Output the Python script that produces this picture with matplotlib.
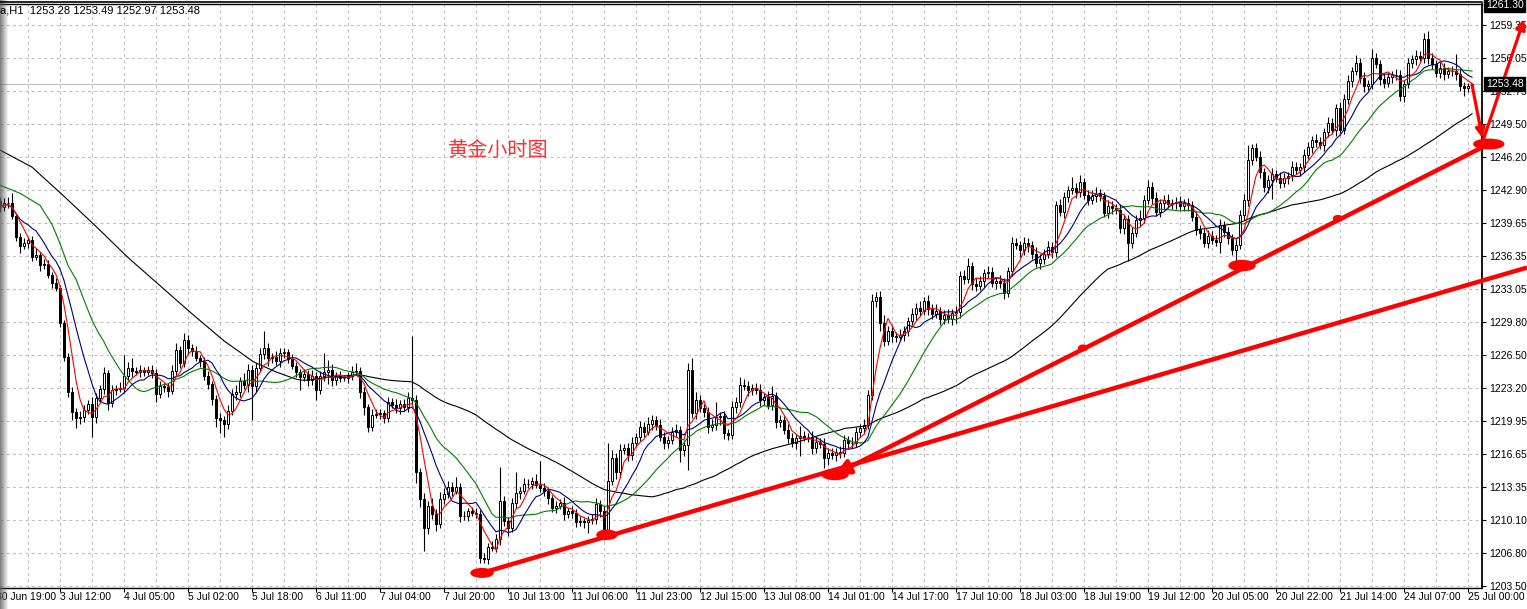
import numpy as np
import pandas as pd
import matplotlib
matplotlib.use("Agg")
import matplotlib.pyplot as plt
from matplotlib.patches import Ellipse, FancyArrowPatch
from matplotlib.lines import Line2D
from matplotlib.transforms import blended_transform_factory

# hourly closes (bar 0 = first visible bar, 30 Jun .. 25 Jul)
closes = [
    1241.2, 1241.6, 1241.6, 1240.3, 1238.2, 1237.3, 1237.6, 1237.9, 1236.3, 1236.5, 1235.5, 1235.6, 1234.5, 1233.7, 1233.2, 1229.7,
    1226.3, 1222.8, 1220.8, 1220.2, 1220.3, 1221.0, 1221.6, 1220.3, 1222.2, 1223.1, 1224.7, 1221.7, 1223.0, 1223.1, 1223.2, 1224.4,
    1225.2, 1224.9, 1224.8, 1225.0, 1224.8, 1225.0, 1224.7, 1222.6, 1223.4, 1223.3, 1222.9, 1224.9, 1227.0, 1225.7, 1228.0, 1227.2,
    1226.9, 1226.2, 1225.9, 1224.4, 1223.6, 1222.1, 1220.2, 1220.0, 1219.6, 1220.9, 1222.6, 1222.8, 1223.9, 1223.5, 1225.0, 1223.4,
    1225.2, 1226.6, 1227.2, 1226.2, 1226.3, 1225.9, 1226.7, 1226.8, 1226.1, 1225.4, 1224.8, 1224.3, 1224.6, 1224.0, 1224.4, 1223.0,
    1224.4, 1224.8, 1225.0, 1224.0, 1224.4, 1224.2, 1224.2, 1224.4, 1224.8, 1224.9, 1222.8, 1221.3, 1219.3, 1220.5, 1220.6, 1220.7,
    1220.2, 1221.8, 1221.5, 1221.2, 1221.6, 1221.3, 1222.2, 1222.0, 1214.8, 1212.2, 1209.3, 1211.5, 1210.7, 1209.7, 1212.2, 1212.7,
    1213.4, 1213.0, 1213.4, 1210.5, 1210.5, 1211.0, 1210.8, 1210.7, 1206.3, 1206.2, 1207.4, 1207.3, 1208.2, 1212.0, 1210.0, 1209.3,
    1211.8, 1212.8, 1213.0, 1213.7, 1213.7, 1214.0, 1213.6, 1213.3, 1213.0, 1212.3, 1211.3, 1211.5, 1211.8, 1210.7, 1211.0, 1210.8,
    1209.9, 1210.0, 1209.9, 1210.1, 1210.2, 1211.7, 1211.0, 1208.9, 1214.0, 1216.2, 1214.8, 1217.0, 1217.2, 1216.5, 1217.7, 1218.3,
    1219.3, 1218.8, 1219.6, 1220.0, 1219.5, 1218.3, 1217.7, 1218.0, 1218.8, 1219.0, 1217.0, 1217.5, 1225.0, 1220.7, 1222.0, 1221.2,
    1220.8, 1219.3, 1219.5, 1220.3, 1220.4, 1218.7, 1218.5, 1221.3, 1221.8, 1223.5, 1223.4, 1223.0, 1223.2, 1223.0, 1222.0, 1222.3,
    1221.5, 1222.4, 1219.8, 1220.0, 1219.0, 1218.2, 1217.7, 1218.2, 1218.4, 1218.3, 1218.3, 1217.2, 1217.8, 1217.6, 1216.2, 1216.7,
    1216.5, 1216.8, 1216.7, 1218.0, 1217.7, 1217.7, 1218.8, 1219.2, 1219.5, 1222.5, 1231.9, 1232.3, 1229.7, 1227.9, 1228.9, 1228.4,
    1228.3, 1228.5, 1228.9, 1229.9, 1230.6, 1231.2, 1230.9, 1231.9, 1231.1, 1230.6, 1230.9, 1230.1, 1230.5, 1230.1, 1230.7, 1230.8,
    1234.4, 1234.1, 1235.4, 1233.6, 1233.4, 1233.9, 1234.7, 1234.8, 1233.7, 1233.9, 1233.7, 1232.7, 1234.9, 1237.6, 1237.4, 1236.9,
    1237.6, 1237.4, 1236.6, 1235.7, 1236.1, 1236.6, 1237.2, 1236.8, 1241.4, 1240.7, 1242.2, 1242.9, 1243.1, 1242.7, 1243.7, 1242.4,
    1241.9, 1242.3, 1242.5, 1242.3, 1240.6, 1241.3, 1241.1, 1240.9, 1239.1, 1240.0, 1237.6, 1238.6, 1239.9, 1240.1, 1241.9, 1243.2,
    1242.1, 1240.7, 1241.6, 1241.9, 1241.5, 1241.6, 1241.7, 1241.3, 1241.6, 1241.4, 1240.2, 1238.9, 1238.6, 1237.6, 1238.3, 1237.9,
    1237.7, 1239.4, 1238.7, 1238.1, 1236.9, 1237.4, 1240.4, 1241.9, 1245.9, 1247.1, 1246.2, 1244.7, 1243.2, 1243.9, 1244.5, 1244.1,
    1243.6, 1244.1, 1244.3, 1245.2, 1244.9, 1245.2, 1246.4, 1247.2, 1247.9, 1247.7, 1247.4, 1248.7, 1249.6, 1248.9, 1251.1, 1248.9,
    1252.0, 1253.8, 1254.8, 1255.6, 1254.1, 1253.3, 1253.5, 1256.1, 1255.5, 1254.0, 1253.6, 1254.2, 1254.4, 1254.4, 1252.3, 1253.5,
    1255.6, 1256.0, 1256.3, 1256.1, 1258.0, 1256.1, 1255.5, 1254.6, 1255.1, 1254.5, 1254.8, 1254.8, 1254.5, 1253.3, 1253.1, 1253.28, 1253.48,
]
first_open = 1241.8

# wick lengths beyond the body (price units)
wick_up = [
    0.4, 0.5, 0.6, 1.0, 0.3, 0.4, 0.5, 0.3, 0.4, 0.6, 0.3, 0.5, 0.4, 0.3, 0.5, 0.3,
    0.3, 0.4, 0.5, 0.4, 0.6, 0.5, 0.4, 0.7, 0.5, 0.4, 0.6, 0.3, 0.5, 0.4, 0.6, 2.1,
    0.6, 1.0, 0.4, 0.5, 0.3, 0.4, 0.5, 0.4, 0.5, 0.3, 0.4, 0.6, 0.7, 0.4, 0.7, 0.5,
    0.4, 0.5, 0.3, 0.4, 0.5, 0.3, 0.4, 0.5, 0.4, 0.6, 0.5, 0.7, 0.4, 0.8, 0.6, 0.5,
    0.5, 0.6, 1.7, 0.5, 0.4, 0.6, 0.5, 0.4, 0.3, 0.5, 0.4, 0.3, 0.5, 0.4, 0.6, 0.4,
    0.5, 1.9, 1.0, 0.6, 0.4, 0.5, 0.3, 0.4, 0.6, 0.8, 0.4, 0.5, 0.3, 0.6, 0.5, 0.4,
    0.3, 0.5, 0.4, 0.6, 0.4, 0.5, 0.6, 6.2, 0.5, 0.4, 0.6, 0.5, 0.8, 0.5, 0.7, 0.6,
    0.6, 0.5, 1.0, 0.4, 0.5, 0.3, 0.4, 0.5, 0.4, 0.5, 0.4, 0.6, 0.5, 3.3, 0.5, 0.4,
    0.5, 2.0, 0.4, 0.6, 0.5, 0.4, 0.6, 2.3, 0.5, 0.4, 0.3, 0.5, 0.4, 0.6, 0.3, 0.5,
    0.4, 0.5, 0.3, 0.4, 0.5, 0.6, 0.4, 0.5, 3.7, 0.8, 0.5, 0.6, 0.4, 0.5, 0.6, 0.4,
    0.6, 0.5, 0.7, 0.5, 0.4, 0.6, 0.5, 0.4, 0.5, 0.6, 0.4, 0.5, 0.7, 1.2, 0.8, 0.5,
    0.4, 0.5, 0.6, 1.5, 0.4, 0.5, 0.4, 0.6, 0.5, 0.8, 0.6, 0.5, 0.4, 0.5, 0.6, 0.4,
    0.6, 1.0, 0.4, 0.5, 0.4, 0.6, 0.5, 0.4, 1.0, 0.5, 0.4, 0.6, 0.5, 0.4, 0.6, 0.5,
    0.5, 0.4, 0.6, 0.5, 0.4, 0.6, 0.5, 0.4, 0.6, 0.5, 0.7, 0.5, 0.6, 0.8, 0.5, 0.6,
    0.4, 0.6, 0.5, 0.4, 0.6, 0.5, 0.7, 0.4, 0.6, 0.5, 0.7, 0.4, 0.5, 0.6, 0.4, 0.6,
    0.5, 0.6, 0.8, 0.4, 0.6, 0.5, 0.4, 0.6, 0.5, 0.4, 0.6, 0.5, 0.4, 0.6, 0.5, 0.4,
    0.6, 0.5, 0.4, 0.6, 0.5, 0.4, 0.6, 0.5, 0.4, 0.6, 0.5, 0.4, 1.1, 0.5, 0.7, 0.4,
    0.5, 0.6, 0.7, 0.5, 0.4, 0.6, 0.5, 0.4, 0.6, 0.5, 0.4, 0.6, 0.5, 0.8, 0.5, 0.7,
    0.5, 0.6, 0.4, 0.5, 0.6, 0.4, 0.5, 0.6, 0.4, 0.5, 0.4, 0.6, 0.5, 0.4, 0.6, 0.5,
    0.5, 0.6, 0.4, 0.5, 0.4, 0.6, 0.5, 0.6, 1.5, 0.4, 0.5, 0.6, 0.4, 0.5, 0.6, 0.4,
    0.6, 0.5, 0.4, 0.6, 0.5, 0.4, 0.6, 0.5, 0.4, 0.6, 0.5, 0.4, 0.6, 0.5, 0.4, 0.6,
    0.5, 0.6, 0.4, 0.8, 0.5, 0.6, 0.4, 0.9, 0.5, 0.4, 0.6, 0.5, 0.4, 0.6, 0.5, 0.4,
    0.5, 0.4, 0.6, 0.5, 0.6, 0.8, 0.5, 0.4, 0.6, 0.5, 0.4, 0.5, 1.7, 0.5, 0.4, 0.3, 0.01,
]
wick_dn = [
    0.5, 0.4, 0.5, 0.3, 0.4, 0.6, 0.3, 0.5, 0.4, 0.3, 0.6, 0.4, 0.3, 0.5, 0.3, 0.4,
    0.4, 0.5, 0.8, 1.0, 0.6, 0.5, 0.4, 2.0, 0.6, 0.4, 0.5, 0.7, 0.4, 0.5, 0.3, 0.5,
    0.4, 0.6, 0.3, 0.5, 0.4, 0.3, 0.5, 0.8, 0.4, 0.5, 0.6, 0.3, 0.4, 0.5, 0.4, 0.6,
    0.5, 0.3, 0.6, 0.4, 0.5, 0.6, 0.9, 1.3, 1.3, 0.5, 0.4, 0.6, 0.5, 0.4, 0.7, 3.4,
    0.6, 0.4, 0.5, 0.8, 0.5, 0.4, 0.6, 0.5, 0.4, 0.3, 0.5, 1.3, 0.4, 0.6, 0.5, 1.0,
    0.4, 0.5, 1.2, 0.6, 0.5, 0.4, 0.3, 0.5, 0.4, 0.3, 0.6, 0.8, 0.5, 0.4, 0.3, 0.5,
    0.5, 0.4, 0.3, 0.5, 0.6, 0.4, 0.5, 0.4, 1.0, 0.8, 2.3, 0.6, 0.5, 0.7, 0.4, 0.5,
    0.4, 0.5, 0.3, 0.6, 0.4, 0.5, 0.3, 0.4, 0.5, 0.4, 0.5, 0.3, 0.4, 0.6, 0.5, 0.8,
    0.4, 0.5, 0.6, 0.3, 0.4, 0.5, 0.3, 0.4, 0.5, 0.6, 0.4, 0.5, 0.3, 0.6, 0.4, 0.5,
    0.5, 0.4, 0.6, 1.1, 0.4, 0.5, 0.6, 0.8, 0.5, 0.4, 0.6, 0.5, 0.4, 0.6, 0.5, 0.4,
    0.4, 0.5, 0.3, 0.6, 0.5, 0.4, 0.6, 0.5, 0.4, 0.5, 1.2, 0.6, 2.5, 0.5, 0.6, 0.4,
    0.5, 0.6, 0.4, 0.5, 0.8, 0.6, 0.5, 0.4, 0.6, 0.5, 0.4, 0.6, 0.5, 0.4, 0.6, 0.5,
    0.4, 0.5, 0.6, 0.5, 0.4, 0.5, 0.4, 0.6, 1.8, 0.4, 0.5, 0.6, 0.5, 0.4, 1.0, 0.7,
    0.4, 0.6, 0.5, 0.4, 0.6, 0.5, 0.4, 0.5, 0.6, 0.4, 0.5, 0.6, 0.8, 0.5, 0.4, 0.6,
    0.5, 0.4, 0.6, 0.5, 0.4, 0.6, 0.5, 0.4, 0.6, 0.5, 0.4, 0.6, 0.5, 0.4, 0.6, 1.0,
    0.6, 0.5, 0.4, 0.6, 0.5, 0.4, 0.6, 0.5, 0.4, 0.6, 0.5, 0.6, 0.4, 0.5, 0.4, 0.6,
    0.4, 0.6, 0.5, 0.4, 0.6, 0.5, 0.4, 0.6, 0.5, 0.4, 0.6, 0.5, 0.4, 0.6, 0.5, 0.4,
    0.5, 0.4, 0.6, 0.5, 0.4, 0.5, 0.6, 0.4, 0.5, 0.6, 1.7, 0.5, 0.4, 0.6, 0.5, 0.4,
    0.6, 0.4, 0.5, 0.6, 0.4, 0.5, 0.6, 0.4, 0.5, 0.6, 0.4, 0.5, 0.6, 0.4, 0.5, 0.4,
    0.4, 1.0, 0.5, 0.6, 0.4, 1.5, 0.4, 0.5, 0.6, 0.5, 0.4, 0.6, 0.5, 0.6, 1.9, 0.4,
    0.5, 0.4, 0.6, 0.5, 0.4, 0.6, 0.5, 0.4, 0.6, 0.5, 0.4, 0.6, 0.5, 0.4, 0.6, 0.5,
    0.4, 0.5, 0.6, 0.4, 0.5, 0.6, 0.4, 0.5, 0.4, 0.6, 0.5, 0.4, 0.6, 0.5, 0.5, 0.6,
    0.4, 0.5, 0.6, 0.4, 0.5, 0.6, 0.5, 0.4, 0.5, 0.6, 0.4, 0.5, 0.6, 0.5, 0.8, 0.4, 0.31,
]

# moving averages before their windows fill: (bar, price)
green_early = [(0, 1243.4), (5, 1242.6), (10, 1241.4), (13, 1239.5), (15, 1237.6), (17, 1235.4)]
black_early = [(0, 1246.9), (8, 1245.2), (16, 1242.3), (24, 1239.3), (32, 1236.2),
               (40, 1233.4), (48, 1230.6), (56, 1227.9)]

price_ticks = [1203.50, 1206.80, 1210.10, 1213.35, 1216.65, 1219.95, 1223.20, 1226.50, 1229.80,
               1233.05, 1236.35, 1239.65, 1242.90, 1246.20, 1249.50, 1252.75, 1256.05, 1259.35]
time_bars = list(range(-1, 368, 16))
time_labels = ["30 Jun 19:00", "3 Jul 12:00", "4 Jul 05:00", "5 Jul 02:00", "5 Jul 18:00", "6 Jul 11:00",
               "7 Jul 04:00", "7 Jul 20:00", "10 Jul 13:00", "11 Jul 06:00", "11 Jul 23:00", "12 Jul 15:00",
               "13 Jul 08:00", "14 Jul 01:00", "14 Jul 17:00", "17 Jul 10:00", "18 Jul 03:00", "18 Jul 19:00",
               "19 Jul 12:00", "20 Jul 05:00", "20 Jul 22:00", "21 Jul 14:00", "24 Jul 07:00", "25 Jul 00:00"]
last_price = 1253.48
top_price = 1261.30
header = "a,H1  1253.28 1253.49 1252.97 1253.48"

# hand drawn marks (bar, price)
marks = [(120.5, 1204.8, 5.5, 0.85), (151.75, 1208.6, 5.0, 0.9), (208.75, 1214.6, 6.5, 1.0),
         (310.5, 1235.4, 6.5, 1.0), (372.2, 1247.5, 7.5, 0.95)]
dots = [(270.75, 1227.2), (334.5, 1240.1)]
lower_line = [(120.5, 1204.8), (381.75, 1235.2)]
upper_line = [(372.2, 1247.5), (208.75, 1214.6)]
arrow_down = [(368.0, 1253.4), (370.6, 1248.1)]
arrow_up = [(370.8, 1247.9), (381.0, 1259.9)]

narrow = ["Liberation Sans Narrow", "Liberation Sans", "DejaVu Sans"]

closes = np.array(closes)
opens = np.r_[first_open, closes[:-1]]
highs = np.maximum(opens, closes) + np.array(wick_up)
lows = np.minimum(opens, closes) - np.array(wick_dn)
x = np.arange(len(closes))

s = pd.Series(closes)
red = s.rolling(5, min_periods=1).mean()
blue = s.rolling(10, min_periods=1).mean()
green = s.rolling(20).mean()
black = s.rolling(60).mean()

fig = plt.figure(figsize=(15.27, 6.09), dpi=100)
ax = fig.add_axes([0, 21 / 609, 1482 / 1527, 584 / 609])
ax.set_xlim(0, 370.5)
ax.set_ylim(1203.30, 1261.44)

# grid
for b in range(7, 370, 8):
    ax.axvline(b, color="#c0c0c0", lw=0.75, ls=(0, (3, 3)), zorder=1)
for p in price_ticks:
    ax.axhline(p, color="#c0c0c0", lw=0.75, ls=(0, (3, 3)), zorder=1)
ax.axhline(last_price, color="#c0c0c0", lw=0.8, zorder=1)

# candles
ax.vlines(x, lows, highs, color="black", lw=0.8, zorder=3)
up = closes >= opens
ax.bar(x[up], (closes - opens)[up], bottom=opens[up], width=0.6, color="white",
       edgecolor="black", lw=0.7, zorder=4)
ax.bar(x[~up], (closes - opens)[~up], bottom=opens[~up], width=0.6, color="black",
       edgecolor="black", lw=0.7, zorder=4)

# moving averages
gx = [b for b, _ in green_early] + list(x[19:])
gy = [v for _, v in green_early] + list(green[19:])
kx = [b for b, _ in black_early] + list(x[59:])
ky = [v for _, v in black_early] + list(black[59:])
ax.plot(kx, ky, color="black", lw=0.8, zorder=5)
ax.plot(gx, gy, color="#008000", lw=0.8, zorder=5)
ax.plot(x, blue, color="#000080", lw=0.8, zorder=5)
ax.plot(x, red, color="#ff0000", lw=0.8, zorder=6)

# axes styling
for side in ["left"]:
    ax.spines[side].set_visible(False)
ax.spines["right"].set_linewidth(1.3)
ax.spines["bottom"].set_linewidth(1.0)
ax.spines["top"].set_linewidth(1.0)
ax.yaxis.tick_right()
ax.set_yticks(price_ticks)
ax.set_yticklabels(["%.2f" % p for p in price_ticks], fontsize=7.5, family=narrow)
ax.tick_params(axis="y", length=3, width=0.8, pad=2, direction="out")
ax.set_xticks([b for b in time_bars if b >= 0])
ax.set_xticklabels([])
ax.tick_params(axis="x", length=3, width=0.8, direction="out")
tb = blended_transform_factory(ax.transData, ax.transAxes)
for b, lab in zip(time_bars, time_labels):
    ax.text(b - 0.1, -0.0155, lab, transform=tb, ha="left", va="center", fontsize=7.5,
            family=narrow, clip_on=False)

tr = blended_transform_factory(ax.transAxes, ax.transData)
box = dict(facecolor="black", edgecolor="black", pad=1.2)
ax.text(1.0025, top_price, "%.2f" % top_price, transform=tr, ha="left", va="center", color="white",
        fontsize=7.5, family=narrow, bbox=box, zorder=10, clip_on=False)
ax.text(1.0025, last_price, "%.2f" % last_price, transform=tr, ha="left", va="center", color="white",
        fontsize=7.5, family=narrow, bbox=box, zorder=10, clip_on=False)

# red drawings
(lx0, ly0), (lx1, ly1) = lower_line
ax.add_line(Line2D([lx0, lx1], [ly0, ly1], color="#ff0000", lw=3.2, zorder=8, clip_on=False,
                   solid_capstyle="butt"))
ax.add_patch(FancyArrowPatch(upper_line[0], upper_line[1], arrowstyle="-|>", mutation_scale=22,
                             color="#ff0000", lw=3.2, zorder=8, clip_on=False, shrinkA=0, shrinkB=0))
for cx, cy, w, h in marks:
    ax.add_patch(Ellipse((cx, cy), w, h, color="#ff0000", zorder=9, clip_on=False))
for cx, cy in dots:
    ax.add_patch(Ellipse((cx, cy), 2.2, 0.55, color="#ff0000", zorder=9))
for a in (arrow_down, arrow_up):
    ax.add_patch(FancyArrowPatch(a[0], a[1], arrowstyle="-|>", mutation_scale=14,
                                 color="#ff0000", lw=2.3, zorder=9, clip_on=False,
                                 shrinkA=0, shrinkB=0))

ax.text(112, 1246.9, "黄金小时图", color="#ff3030", fontsize=14.5, ha="left", va="center",
        family=["Noto Sans CJK SC", "DejaVu Sans"], zorder=7)

fig.text(0.0, 1 - 10.5 / 609, header, ha="left", va="center", fontsize=8, family=narrow)
fig.add_artist(Line2D([0, 1482 / 1527], [1 - 1.5 / 609, 1 - 1.5 / 609], color="black", lw=1.2))

# window shadow on the left edge
sh = fig.add_axes([0, 0, 9 / 1527, 1])
grad = np.zeros((1, 9, 4))
grad[..., :3] = 0.35
grad[0, :, 3] = np.linspace(0.75, 0.0, 9)
sh.imshow(grad, aspect="auto", extent=[0, 1, 0, 1])
sh.axis("off")

fig.savefig("out.png", dpi=100)
